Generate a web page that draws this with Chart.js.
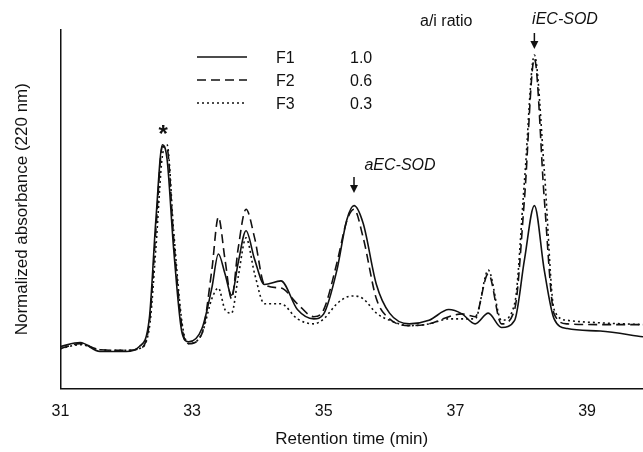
<!DOCTYPE html>
<html>
<head>
<meta charset="utf-8">
<script src="https://cdn.jsdelivr.net/npm/chart.js@4"></script>
<style>
  html, body { margin: 0; padding: 0; background: #fff; }
  #wrap { width: 643px; height: 452px; }
</style>
</head>
<body>
<div id="wrap"><canvas id="chroma"></canvas></div>
<script>
// --- Data ---
const times = [31.0, 31.3, 31.6, 32.0, 32.2, 32.35, 32.45, 32.55, 32.62, 32.72, 32.85, 32.95, 33.15, 33.3, 33.4, 33.5, 33.6, 33.7, 33.82, 33.95, 34.1, 34.35, 34.6, 34.85, 35.0, 35.2, 35.35, 35.46, 35.6, 35.8, 36.0, 36.3, 36.6, 36.9, 37.1, 37.3, 37.5, 37.7, 37.9, 38.05, 38.2, 38.35, 38.5, 38.7, 39.2, 39.85];
const f1 = [0.117, 0.128, 0.103, 0.103, 0.117, 0.194, 0.47, 0.68, 0.64, 0.39, 0.153, 0.13, 0.167, 0.28, 0.375, 0.32, 0.26, 0.35, 0.44, 0.36, 0.29, 0.30, 0.22, 0.194, 0.208, 0.33, 0.47, 0.51, 0.46, 0.29, 0.21, 0.18, 0.19, 0.22, 0.208, 0.18, 0.21, 0.17, 0.19, 0.36, 0.51, 0.33, 0.194, 0.167, 0.16, 0.144];
const f2 = [0.111, 0.125, 0.108, 0.106, 0.111, 0.181, 0.44, 0.675, 0.67, 0.42, 0.167, 0.125, 0.153, 0.33, 0.478, 0.36, 0.25, 0.39, 0.50, 0.42, 0.29, 0.28, 0.236, 0.20, 0.22, 0.35, 0.467, 0.50, 0.42, 0.25, 0.194, 0.175, 0.18, 0.20, 0.208, 0.20, 0.32, 0.18, 0.22, 0.53, 0.92, 0.53, 0.208, 0.18, 0.178, 0.178];
const f3 = [0.111, 0.122, 0.108, 0.106, 0.111, 0.167, 0.39, 0.65, 0.68, 0.44, 0.18, 0.125, 0.153, 0.25, 0.28, 0.22, 0.21, 0.31, 0.42, 0.32, 0.236, 0.236, 0.194, 0.18, 0.194, 0.236, 0.255, 0.258, 0.25, 0.21, 0.19, 0.175, 0.18, 0.194, 0.194, 0.194, 0.33, 0.19, 0.236, 0.58, 0.93, 0.61, 0.22, 0.19, 0.183, 0.178];
const tickValues = [31, 33, 35, 37, 39];
const seriesNames = ["F1", "F2", "F3"];
const ratios = ["1.0", "0.6", "0.3"];
const dashes = [[], [9, 5], [2, 3]];

const pts = arr => times.map((t, i) => ({ x: t, y: arr[i] }));
const FONT = "'Liberation Sans', Arial";

// --- Annotations + custom legend ---
const annotate = {
    id: "annotate",
    afterDraw(c) {
        const ctx = c.ctx, xs = c.scales.x, ys = c.scales.y;
        ctx.save();
        ctx.fillStyle = "#111";
        ctx.strokeStyle = "#111";
        ctx.textAlign = "center";
        ctx.textBaseline = "alphabetic";

        // star over the first big peak
        ctx.font = "bold 24px " + FONT;
        ctx.fillText("*", xs.getPixelForValue(32.56), 142);

        // arrows with italic labels
        function arrow(t, yTop, label, lx, ly) {
            const x = xs.getPixelForValue(t);
            ctx.lineWidth = 1.5;
            ctx.beginPath();
            ctx.moveTo(x, yTop);
            ctx.lineTo(x, yTop + 12);
            ctx.stroke();
            ctx.beginPath();
            ctx.moveTo(x - 4, yTop + 8);
            ctx.lineTo(x + 4, yTop + 8);
            ctx.lineTo(x, yTop + 16);
            ctx.closePath();
            ctx.fill();
            ctx.font = "italic 16px " + FONT;
            ctx.fillText(label, lx, ly);
        }
        arrow(35.46, 177, "aEC-SOD", 400, 170);
        arrow(38.2, 33, "iEC-SOD", 565, 24);

        // legend
        ctx.font = "16px " + FONT;
        ctx.textAlign = "left";
        ctx.fillText("a/i ratio", 420, 26);
        seriesNames.forEach((n, i) => {
            const y = 57 + i * 23;
            ctx.setLineDash(dashes[i]);
            ctx.lineWidth = 1.6;
            ctx.beginPath();
            ctx.moveTo(197, y);
            ctx.lineTo(247, y);
            ctx.stroke();
            ctx.setLineDash([]);
            ctx.fillText(n, 276, y + 6);
            ctx.fillText(ratios[i], 350, y + 6);
        });
        ctx.restore();
    }
};

document.addEventListener("DOMContentLoaded", () => {
    const ctx = document.getElementById("chroma");
    new Chart(ctx, {
        type: "line",
        data: {
            datasets: [f1, f2, f3].map((arr, i) => ({
                label: seriesNames[i],
                data: pts(arr),
                borderColor: "#111",
                borderWidth: 1.6,
                borderDash: dashes[i],
                pointRadius: 0,
                tension: 0.4,
                cubicInterpolationMode: "monotone",
                fill: false
            }))
        },
        options: {
            responsive: true,
            maintainAspectRatio: false,
            animation: false,
            layout: { padding: { top: 30, right: 0, left: 8, bottom: 0 } },
            plugins: { legend: { display: false }, tooltip: { enabled: false } },
            scales: {
                x: {
                    type: "linear",
                    min: 31,
                    max: 39.85,
                    afterBuildTicks: axis => { axis.ticks = tickValues.map(v => ({ value: v })); },
                    grid: { display: false, drawTicks: true, tickLength: 6, tickColor: "#111" },
                    border: { color: "#111", width: 1.5 },
                    ticks: { color: "#111", font: { family: FONT, size: 16 }, padding: 8 },
                    title: { display: true, text: "Retention time (min)", color: "#111", font: { family: FONT, size: 17 }, padding: { top: 0, bottom: 2 } }
                },
                y: {
                    min: 0,
                    max: 1,
                    grid: { display: false, drawTicks: false },
                    border: { color: "#111", width: 1.5 },
                    ticks: { display: false },
                    title: { display: true, text: "Normalized absorbance (220 nm)", color: "#111", font: { family: FONT, size: 17 }, padding: { bottom: 28 } }
                }
            }
        },
        plugins: [annotate]
    });
});
</script>
</body>
</html>
